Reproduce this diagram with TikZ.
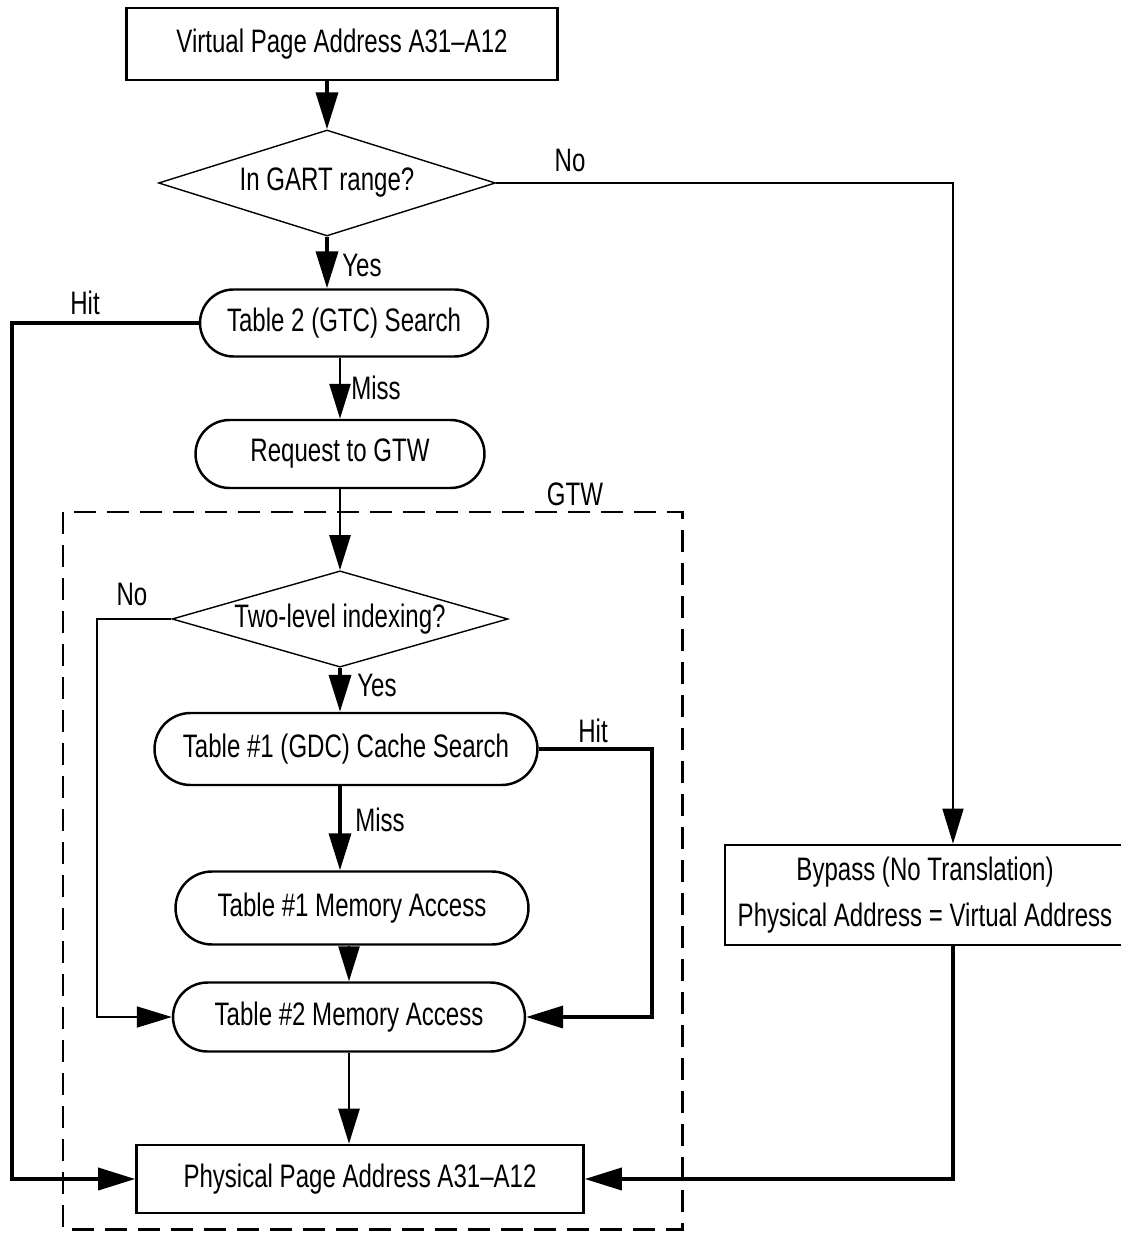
\documentclass[tikz,border=0pt]{standalone}
\usepackage{fontspec}
\setmainfont{Liberation Sans}[FakeStretch=0.74]
\usetikzlibrary{arrows.meta,shapes.geometric,shapes.misc}

\tikzset{
  every node/.style={font=\fontsize{18.5}{22}\selectfont},
  box/.style={draw, line width=1.5pt, rectangle, inner sep=0pt},
  rbox/.style={draw, line width=1.4pt, rounded rectangle, inner sep=0pt},
  decide/.style={draw, line width=0.8pt, diamond, aspect=3.2, inner sep=0pt},
  conn/.style={line width=2.1pt, -{Triangle[length=0.74cm,width=0.44cm]}},
  midconn/.style={line width=1.5pt, -{Triangle[length=0.7cm,width=0.42cm]}},
  thinconn/.style={line width=0.9pt, -{Triangle[length=0.7cm,width=0.42cm]}},
  lbl/.style={inner sep=0pt},
}

\begin{document}
\begin{tikzpicture}[x=0.02cm,y=-0.02cm]
  \useasboundingbox (0,0) rectangle (1120,1239);

  % les cases
  \node[box, minimum width=8.62cm, minimum height=1.44cm] (vpa) at (342,44) {Virtual Page Address A31--A12};
  \node[decide, minimum width=6.74cm, minimum height=2.12cm] (gart) at (327,183) {In GART range?};
  \node[rbox, minimum width=5.76cm, minimum height=1.34cm] (gtc) at (344,323) {Table 2 (GTC) Search};
  \node[rbox, minimum width=5.78cm, minimum height=1.36cm] (req) at (340,454) {Request to GTW};
  \node[decide, minimum width=6.72cm, minimum height=1.86cm] (twolvl) at (340,619) {Two-level indexing?};
  \node[rbox, minimum width=7.66cm, minimum height=1.44cm] (gdc) at (346,749) {Table \#1 (GDC) Cache Search};
  \node[rbox, minimum width=7.06cm, minimum height=1.46cm] (mem1) at (352,908) {Table \#1 Memory Access};
  \node[rbox, minimum width=7.04cm, minimum height=1.38cm] (mem2) at (349,1017) {Table \#2 Memory Access};
  \node[box, minimum width=8.94cm, minimum height=1.36cm] (phys) at (360,1179) {Physical Page Address A31--A12};
  \node[box, minimum width=8.0cm, minimum height=2.0cm, align=center] (bypass) at (925,895)
    {Bypass (No Translation)\\[4pt] Physical Address = Virtual Address};

  % le cadre GTW
  \draw[line width=1.7pt, dash pattern=on 0.44cm off 0.22cm] (63,512) rectangle (682,1229);
  \node[lbl] (gtwlbl) at (575,494) {GTW};

  % points de passage
  \coordinate (noR) at (953,0);
  \coordinate (hitL) at (12,0);
  \coordinate (noL) at (97,0);
  \coordinate (hitR) at (652,0);

  % les liaisons
  \draw[conn] (gart.north |- vpa.south) -- (gart.north);
  \draw[thinconn] (gart.east) -| (bypass.north -| noR);
  \draw[conn] (gart.south) -- (gart.south |- gtc.north);
  \draw[conn] (gtc.west) -- (gtc.west -| hitL) |- (phys.west);
  \draw[midconn] (req.north |- gtc.south) -- (req.north);
  \draw[midconn] (req.south) -- (req.south |- twolvl.north);
  \draw[thinconn] (twolvl.west) -- (twolvl.west -| noL) |- (mem2.west);
  \draw[conn] (twolvl.south) -- (twolvl.south |- gdc.north);
  \draw[conn] (gdc.east) -- (gdc.east -| hitR) |- (mem2.east);
  \draw[conn] (twolvl.south |- gdc.south) -- (twolvl.south |- mem1.north);
  \draw[midconn] (mem2.north |- mem1.south) -- (mem2.north);
  \draw[midconn] (mem2.south) -- (mem2.south |- phys.north);
  \draw[conn] (bypass.south -| noR) |- (phys.east);

  % du texte
  \node[lbl] (nogart) at (570,160) {No};
  \node[lbl] (yesgart) at (362,265) {Yes};
  \node[lbl] (hitgtc) at (85,303) {Hit};
  \node[lbl] (missgtc) at (376,388) {Miss};
  \node[lbl] (notwo) at (132,594) {No};
  \node[lbl] (yestwo) at (377,685) {Yes};
  \node[lbl] (hitgdc) at (593,731) {Hit};
  \node[lbl] (missgdc) at (380,820) {Miss};
\end{tikzpicture}
\end{document}
